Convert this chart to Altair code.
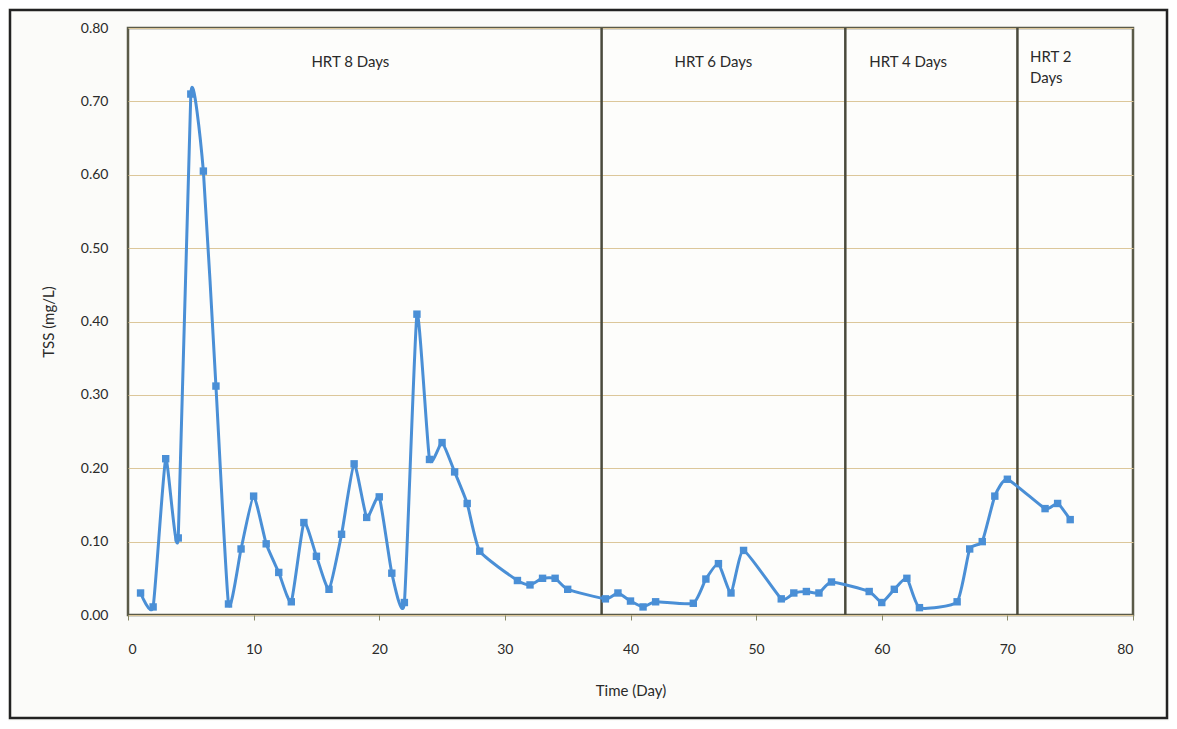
import altair as alt
import pandas as pd

days = [1, 2, 3, 4, 5, 6, 7, 8, 9, 10, 11, 12, 13, 14, 15, 16, 17, 18, 19, 20,
        21, 22, 23, 24, 25, 26, 27, 28, 31, 32, 33, 34, 35, 38, 39, 40, 41, 42,
        45, 46, 47, 48, 49, 52, 53, 54, 55, 56, 59, 60, 61, 62, 63, 66, 67, 68,
        69, 70, 73, 74, 75]
tss = [0.030, 0.011, 0.213, 0.105, 0.710, 0.605, 0.312, 0.015, 0.090, 0.162,
       0.097, 0.058, 0.018, 0.126, 0.080, 0.035, 0.110, 0.206, 0.133, 0.161,
       0.057, 0.017, 0.410, 0.212, 0.235, 0.195, 0.152, 0.087, 0.047, 0.041,
       0.050, 0.050, 0.035, 0.022, 0.030, 0.019, 0.011, 0.018, 0.016, 0.049,
       0.070, 0.030, 0.088, 0.022, 0.030, 0.032, 0.030, 0.045, 0.032, 0.017,
       0.035, 0.050, 0.010, 0.018, 0.090, 0.100, 0.162, 0.185, 0.145, 0.152,
       0.130]

boundaries = [37.7, 57.1, 70.8]
phase_labels = ["HRT 8 Days", "HRT 6 Days", "HRT 4 Days"]
phase_label_x = [17.7, 46.6, 62.1]
phase_label_y = [0.753, 0.753, 0.753]
last_label = [["HRT 2", "Days"]]
last_label_x = [71.8]
last_label_y = [0.760]

FONT = "Lato"
BLUE = "#4a8fd6"

df = pd.DataFrame({"day": days, "tss": tss})
bdf = pd.DataFrame({"b": boundaries})
ldf = pd.DataFrame({"x": phase_label_x, "y": phase_label_y, "t": phase_labels})
l2df = pd.DataFrame({"x": last_label_x, "y": last_label_y, "t": last_label})

W, H = 1005, 587

xscale = alt.Scale(domain=[0, 80], nice=False)
yscale = alt.Scale(domain=[0, 0.8], nice=False)

x_enc = alt.X("day:Q", scale=xscale, title="Time (Day)",
              axis=alt.Axis(values=list(range(0, 81, 10)), grid=False,
                            labelPadding=22, titlePadding=27, tickSize=5,
                            tickColor="#888866", domain=False))
y_enc = alt.Y("tss:Q", scale=yscale, title="TSS (mg/L)",
              axis=alt.Axis(values=[i / 10 for i in range(9)], format=".2f",
                            grid=True, gridColor="#dcc79a", gridWidth=1.2,
                            labelPadding=20, titlePadding=24, ticks=False,
                            domain=False))

frame = alt.Chart(pd.DataFrame({"a": [0]})).mark_rect(
    fill=None, stroke="#222222", strokeWidth=2.5, clip=False
).encode(x=alt.value(-118), x2=alt.value(1039), y=alt.value(-18), y2=alt.value(690))

line = alt.Chart(df).mark_line(
    color=BLUE, strokeWidth=3, interpolate="cardinal", tension=0.5
).encode(x=x_enc, y=y_enc)

pts = alt.Chart(df).mark_point(
    shape="square", filled=True, color=BLUE, size=55, opacity=1
).encode(x="day:Q", y="tss:Q")

rules = alt.Chart(bdf).mark_rule(color="#4a4a3c", strokeWidth=2.5).encode(
    x=alt.X("b:Q", scale=xscale)
)

labels = alt.Chart(ldf).mark_text(
    font=FONT, fontSize=15, color="#2a2a2a", align="center", baseline="middle"
).encode(x=alt.X("x:Q", scale=xscale), y=alt.Y("y:Q", scale=yscale), text="t:N")

labels2 = alt.Chart(l2df).mark_text(
    font=FONT, fontSize=15, color="#2a2a2a", align="left", baseline="middle",
    lineHeight=21
).encode(x=alt.X("x:Q", scale=xscale), y=alt.Y("y:Q", scale=yscale), text="t")

chart = alt.layer(frame, rules, line, pts, labels, labels2).properties(
    width=W, height=H,
    background="#fbfbf9",
    autosize=alt.AutoSizeParams(type="none"),
    padding={"left": 120, "top": 20, "right": 36, "bottom": 106},
).configure_view(
    stroke="#5a5a48", strokeWidth=2.5, fill="#fdfdfb"
).configure_axis(
    labelFont=FONT, titleFont=FONT, labelFontSize=14, titleFontSize=15,
    labelColor="#2a2a2a", titleColor="#2a2a2a", titleFontWeight="normal"
)

chart.save("out.html", embed_options={"renderer": "svg", "actions": False})
